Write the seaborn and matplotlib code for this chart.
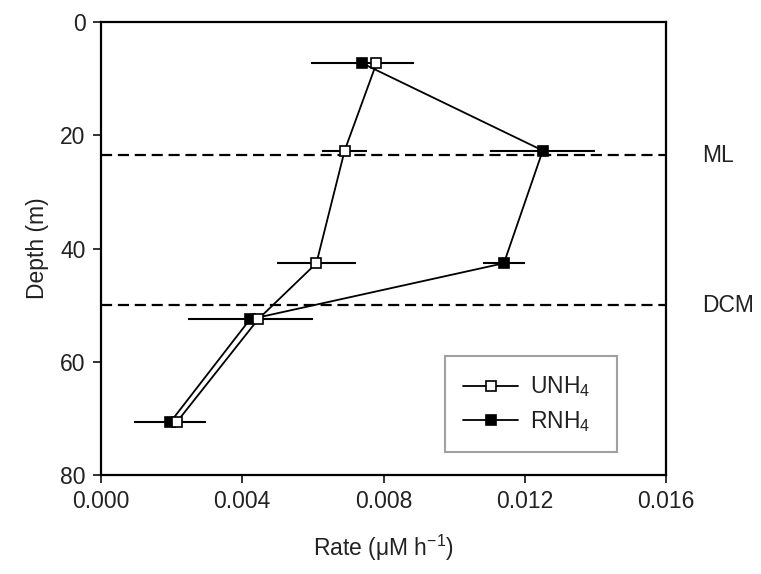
import numpy as np
import pandas as pd
import matplotlib
matplotlib.use("Agg")
import matplotlib.pyplot as plt
import matplotlib.transforms as mtransforms
from matplotlib.lines import Line2D
import seaborn as sns

# ---- data ----
depth = [7.3, 22.7, 42.6, 52.5, 70.7]
unh4 = [0.0078, 0.0069, 0.0061, 0.00445, 0.00214]
unh4_err = [0.0, 0.00064, 0.00113, 0.0, 0.0]
rnh4 = [0.0074, 0.01251, 0.01141, 0.00422, 0.00196]
rnh4_err = [0.00145, 0.00149, 0.0006, 0.00177, 0.00102]
ref_depths = [23.5, 50.0]
ref_labels = ["ML", "DCM"]
x_ticks = [0.000, 0.004, 0.008, 0.012, 0.016]
y_ticks = [0, 20, 40, 60, 80]

sns.set_style("ticks")
plt.rcParams["font.family"] = ["Liberation Sans", "DejaVu Sans"]
plt.rcParams["mathtext.fontset"] = "custom"
plt.rcParams["mathtext.rm"] = "Liberation Sans"
plt.rcParams["mathtext.it"] = "Liberation Sans:italic"
plt.rcParams["mathtext.bf"] = "Liberation Sans:bold"

FS = 16.5
TXT = "#222222"

fig = plt.figure(figsize=(7.61, 5.74), dpi=100)
ax = fig.add_axes([101 / 761, 1 - 475 / 574, 565 / 761, 453 / 574])

df_u = pd.DataFrame({"rate": unh4, "depth": depth})
df_r = pd.DataFrame({"rate": rnh4, "depth": depth})

# reference dashed lines
for d in ref_depths:
    ax.axhline(d, color="black", lw=1.6, linestyle=(0, (5, 2.6)), zorder=1)

# error bars
ax.errorbar(rnh4, depth, xerr=rnh4_err, fmt="none", ecolor="black",
            elinewidth=1.5, capsize=0, zorder=2)
ax.errorbar(unh4, depth, xerr=unh4_err, fmt="none", ecolor="black",
            elinewidth=1.5, capsize=0, zorder=2)

sns.lineplot(data=df_r, x="rate", y="depth", orient="y", estimator=None,
             ax=ax, color="black", lw=1.3, marker="s", markersize=7.5,
             markerfacecolor="black", markeredgecolor="black",
             markeredgewidth=1.2, zorder=3)
sns.lineplot(data=df_u, x="rate", y="depth", orient="y", estimator=None,
             ax=ax, color="black", lw=1.3, marker="s", markersize=7.5,
             markerfacecolor="white", markeredgecolor="black",
             markeredgewidth=1.2, zorder=4)

h_u = Line2D([], [], color="black", lw=1.3, marker="s", markersize=7,
             markerfacecolor="white", markeredgecolor="black", markeredgewidth=1.2)
h_r = Line2D([], [], color="black", lw=1.3, marker="s", markersize=7,
             markerfacecolor="black", markeredgecolor="black", markeredgewidth=1.2)
leg = ax.legend(handles=[h_u, h_r], labels=["UNH$_4$", "RNH$_4$"],
                loc="lower left", bbox_to_anchor=(0.609, 0.051, 0.304, 0.223),
                mode="expand", fontsize=FS, frameon=True, fancybox=False,
                handlelength=2.4, handletextpad=0.5, labelspacing=0.4,
                borderpad=0.8, borderaxespad=0.0)
leg.get_frame().set_edgecolor("#8a8a8a")
leg.get_frame().set_linewidth(1.5)
for t in leg.get_texts():
    t.set_color(TXT)

ax.set_xlim(0, 0.016)
ax.set_ylim(80, 0)
ax.set_xticks(x_ticks)
ax.set_xticklabels([f"{v:.3f}" for v in x_ticks])
ax.set_yticks(y_ticks)
ax.set_xlabel("Rate (μM h$^{-1}$)", fontsize=FS, labelpad=14, color=TXT)
ax.set_ylabel("Depth (m)", fontsize=FS, labelpad=8, color=TXT)
ax.tick_params(axis="both", labelsize=FS, length=6, width=1.4, direction="out",
               color="#333333", labelcolor=TXT, pad=5)
for s in ax.spines.values():
    s.set_linewidth(1.6)
    s.set_color("black")

trans = mtransforms.blended_transform_factory(ax.transAxes, ax.transData)
for d, lab in zip(ref_depths, ref_labels):
    ax.text(1.064, d, lab, transform=trans, ha="left", va="center",
            fontsize=FS, color=TXT)

fig.savefig("out.png", dpi=100)
